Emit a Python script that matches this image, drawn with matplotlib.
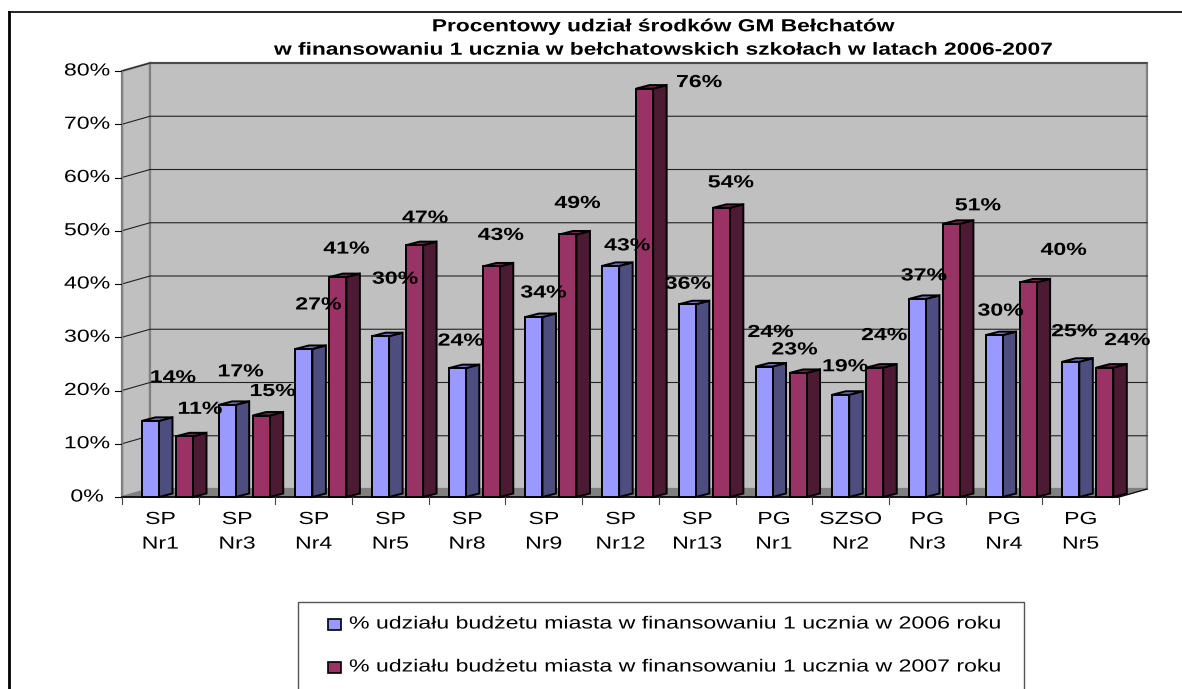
import matplotlib
matplotlib.use('Agg')
from matplotlib import pyplot as plt
from matplotlib.patches import Polygon, Rectangle
from matplotlib.patheffects import AbstractPathEffect
from matplotlib.transforms import Affine2D

W, H = 1182, 689

title = 'Procentowy udział środków GM Bełchatów\nw finansowaniu 1 ucznia w bełchatowskich szkołach w latach 2006-2007'
schools = ['SP\nNr1', 'SP\nNr3', 'SP\nNr4', 'SP\nNr5', 'SP\nNr8', 'SP\nNr9', 'SP\nNr12', 'SP\nNr13',
           'PG\nNr1', 'SZSO\nNr2', 'PG\nNr3', 'PG\nNr4', 'PG\nNr5']
y_ticks = [0, 10, 20, 30, 40, 50, 60, 70, 80]

share_2006 = [14.3, 17.3, 27.8, 30.2, 24.2, 33.8, 43.4, 36.2, 24.5, 19.2, 37.2, 30.4, 25.4]
share_2007 = [11.4, 15.3, 41.3, 47.3, 43.3, 49.3, 76.7, 54.3, 23.3, 24.3, 51.3, 40.3, 24.3]
labels_2006 = [14, 17, 27, 30, 24, 34, 43, 36, 24, 19, 37, 30, 25]
labels_2007 = [11, 15, 41, 47, 43, 49, 76, 54, 23, 24, 51, 40, 24]
legend_2006 = '% udziału budżetu miasta w finansowaniu 1 ucznia w 2006 roku'
legend_2007 = '% udziału budżetu miasta w finansowaniu 1 ucznia w 2007 roku'

# label offsets from bar corner, pixels
off_2006 = [(31, 43), (22, 33), (23, 44), (23, 57), (12, 27), (18, 24), (25, 20),
            (9, 20), (15, 34), (13, 28), (15, 23), (15, 24), (12, 30)]
off_2007 = [(24, 27), (20, 24), (17, 28), (19, 27), (18, 31), (18, 31), (63, 6),
            (18, 25), (5, 23), (18, 32), (35, 18), (44, 32), (31, 27)]

plt.rcParams['font.family'] = ['Liberation Sans', 'DejaVu Sans']


# the original text is stretched sideways, so widen the glyphs of each line
class Wide(AbstractPathEffect):
    def __init__(self, sx=1.32, anchor='center'):
        super().__init__()
        self.sx = sx
        self.anchor = anchor

    def draw_path(self, renderer, gc, tpath, affine, rgbFace=None):
        ext = tpath.get_extents()
        cx = (ext.x0 + ext.x1) / 2 if self.anchor == 'center' else 0
        tr = Affine2D().translate(-cx, 0).scale(self.sx, 1).translate(cx, 0) + affine
        renderer.draw_path(gc, tpath, tr, rgbFace)


wide = [Wide()]

# front plane of the chart in pixels
x0, x1, y0, y80 = 122, 1119, 497, 71
px_x = (x1 - x0) / 13
px_y = (y0 - y80) / 80

fig = plt.figure(figsize=(W / 100, H / 100), dpi=100)
ax = fig.add_axes([x0 / W, 1 - y0 / H, (x1 - x0) / W, (y0 - y80) / H])
ax.set_xlim(0, 13)
ax.set_ylim(0, 80)
ax.axis('off')

# depth of wall and bars
wall_dx, wall_dy = 28 / px_x, 8 / px_y
bar_dx, bar_dy = 13.5 / px_x, 3.5 / px_y
bar_w = 17 / px_x
blue_off, red_off = 20 / px_x, 54 / px_x


def poly(pts, fc, ec='black', lw=1.4, z=3):
    ax.add_patch(Polygon(pts, closed=True, facecolor=fc, edgecolor=ec, linewidth=lw,
                         joinstyle='miter', zorder=z, clip_on=False))


# walls and floor
poly([(0, 0), (wall_dx, wall_dy), (wall_dx, 80 + wall_dy), (0, 80)], '#c0c0c0', '#808080', 1.6, 1)
poly([(wall_dx, wall_dy), (13 + wall_dx, wall_dy), (13 + wall_dx, 80 + wall_dy), (wall_dx, 80 + wall_dy)],
     '#c0c0c0', '#808080', 1.6, 1)
poly([(0, 0), (13, 0), (13 + wall_dx, wall_dy), (wall_dx, wall_dy)], '#808080', '#808080', 1, 1)

# grid and y axis
for v in y_ticks:
    if v > 0:
        ax.plot([0, wall_dx, 13 + wall_dx], [v, v + wall_dy, v + wall_dy], color='#222222', lw=0.8,
                zorder=2, clip_on=False)
    ax.plot([-7 / px_x, 0], [v, v], color='black', lw=0.8, zorder=2, clip_on=False)
    ax.annotate(f'{v}%', (0, v), xytext=(-35, 0), textcoords='offset pixels', ha='center', va='center',
                fontsize=12.6, annotation_clip=False, path_effects=wide)
ax.plot([0, 0], [0, 80], color='#808080', lw=1, zorder=2, clip_on=False)
ax.plot([0, 13], [0, 0], color='black', lw=1.2, zorder=2, clip_on=False)
ax.plot([13, 13 + wall_dx], [0, wall_dy], color='black', lw=0.8, zorder=2, clip_on=False)

# x axis
for i in range(14):
    ax.plot([i, i], [0, -7 / px_y], color='#444444', lw=0.8, zorder=2, clip_on=False)
for i, s in enumerate(schools):
    ax.annotate(s, (i + 0.5, 0), xytext=(0, -15), textcoords='offset pixels', ha='center', va='top',
                fontsize=12.6, linespacing=1.8, annotation_clip=False, path_effects=wide)


def draw_bars(vals, off, front, side, top):
    for i, v in enumerate(vals):
        l = i + off
        r = l + bar_w
        poly([(r, 0), (r + bar_dx, bar_dy), (r + bar_dx, v + bar_dy), (r, v)], side)
        poly([(l, v), (r, v), (r + bar_dx, v + bar_dy), (l + bar_dx, v + bar_dy)], top)
        poly([(l, 0), (r, 0), (r, v), (l, v)], front)


draw_bars(share_2006, blue_off, '#9999ff', '#4d4d80', '#7373bf')
draw_bars(share_2007, red_off, '#993366', '#4d1a33', '#73264d')

# value labels
for i in range(13):
    ax.annotate(f'{labels_2006[i]}%', (i + blue_off, share_2006[i]), xytext=off_2006[i],
                textcoords='offset pixels', ha='center', va='center', fontsize=12.6, fontweight='bold',
                zorder=5, annotation_clip=False, path_effects=wide)
    ax.annotate(f'{labels_2007[i]}%', (i + red_off, share_2007[i]), xytext=off_2007[i],
                textcoords='offset pixels', ha='center', va='center', fontsize=12.6, fontweight='bold',
                zorder=5, annotation_clip=False, path_effects=wide)

# overlay in figure pixels for title, frame and legend
ov = fig.add_axes([0, 0, 1, 1], zorder=10)
ov.set_xlim(0, W)
ov.set_ylim(H, 0)
ov.axis('off')
ov.patch.set_alpha(0)
ov.text(663, 38.5, title, ha='center', va='center', fontsize=12.6, fontweight='bold', linespacing=1.7,
        path_effects=[Wide(1.3)])
ov.plot([9, 9], [H, 12], color='black', lw=2, clip_on=False)
ov.plot([9, W], [12, 12], color='black', lw=1.2, clip_on=False)
ov.add_patch(Rectangle((298, 602), 726, 100, facecolor='white', edgecolor='#555555', lw=1))
for y, c, txt in [(624, '#9999ff', legend_2006), (667, '#993366', legend_2007)]:
    ov.add_patch(Rectangle((328, y - 5), 13, 11, facecolor=c, edgecolor='black', lw=1.2))
    ov.text(349, y, txt, ha='left', va='center', fontsize=12.6, path_effects=[Wide(1.32, 'left')])

fig.savefig('out.png', dpi=100)
